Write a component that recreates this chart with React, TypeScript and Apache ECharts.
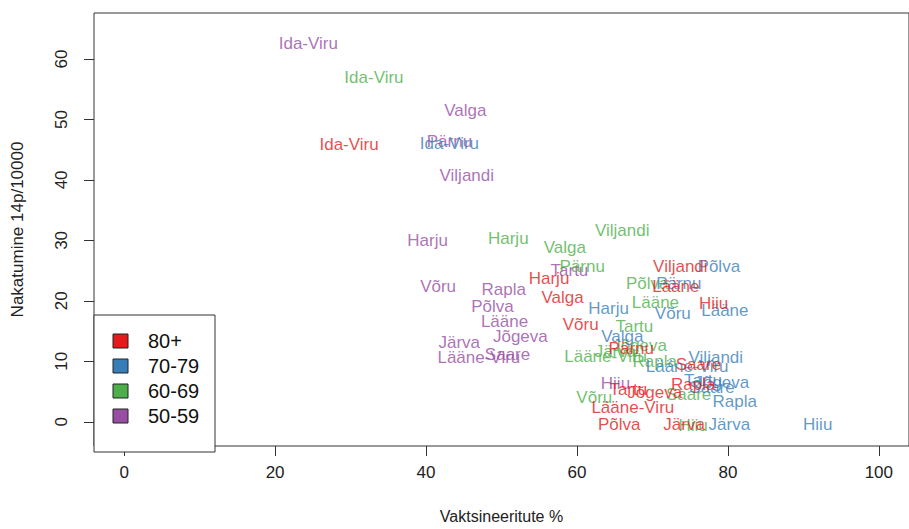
import React, { useEffect, useRef } from "react";
import * as echarts from "echarts";

// Age groups and their colours (RColorBrewer Set1)
const groups = ["80+", "70-79", "60-69", "50-59"];
const groupColors = ["#E41A1C", "#377EB8", "#4DAF4A", "#984EA3"];

// 80+
const names80 = ["Ida-Viru", "Harju", "Valga", "Võru", "Viljandi", "Lääne", "Hiiu", "Pärnu", "Saare", "Rapla", "Tartu", "Jõgeva", "Lääne-Viru", "Põlva", "Järva"];
const vacc80 = [29.8, 56.3, 58.1, 60.5, 73.7, 73.1, 78.1, 67.2, 76.1, 75.4, 66.8, 70.3, 67.4, 65.6, 74.2];
const inc80 = [45.9, 23.7, 20.6, 16.1, 25.7, 22.3, 19.5, 12.2, 9.4, 6.1, 5.3, 4.8, 2.4, -0.4, -0.4];

// 70-79
const names70 = ["Ida-Viru", "Põlva", "Pärnu", "Lääne", "Võru", "Harju", "Valga", "Lääne-Viru", "Viljandi", "Tartu", "Jõgeva", "Saare", "Rapla", "Järva", "Hiiu"];
const vacc70 = [43.1, 78.8, 73.5, 79.6, 72.7, 64.2, 66.0, 74.6, 78.4, 76.7, 79.2, 77.9, 80.9, 80.2, 91.9];
const inc70 = [46.1, 25.7, 22.8, 18.4, 17.9, 18.8, 14.1, 9.1, 10.7, 6.8, 6.5, 5.6, 3.4, -0.4, -0.4];

// 60-69
const names60 = ["Ida-Viru", "Viljandi", "Harju", "Valga", "Pärnu", "Põlva", "Lääne", "Tartu", "Lääne-Viru", "Järva", "Jõgeva", "Rapla", "Saare", "Võru", "Hiiu"];
const vacc60 = [33.1, 66.0, 50.9, 58.4, 60.7, 69.3, 70.4, 67.6, 63.8, 65.1, 68.3, 70.3, 74.8, 62.3, 75.4];
const inc60 = [57.0, 31.6, 30.3, 28.8, 25.7, 22.9, 19.8, 15.7, 10.8, 11.7, 12.6, 10.0, 4.5, 4.0, -0.6];

// 50-59
const names50 = ["Ida-Viru", "Valga", "Pärnu", "Viljandi", "Harju", "Võru", "Rapla", "Põlva", "Lääne", "Jõgeva", "Järva", "Saare", "Lääne-Viru", "Tartu", "Hiiu"];
const vacc50 = [24.4, 45.2, 43.1, 45.4, 40.2, 41.6, 50.3, 48.8, 50.4, 52.5, 44.4, 50.8, 47.0, 59.0, 65.1];
const inc50 = [62.6, 51.5, 46.4, 40.7, 29.9, 22.4, 21.8, 19.0, 16.6, 14.1, 13.1, 11.2, 10.7, 25.0, 6.4];

const xTicks = [0, 20, 40, 60, 80, 100];
const yTicks = [0, 10, 20, 30, 40, 50, 60];
const xTitle = "Vaktsineeritute %";
const yTitle = "Nakatumine 14p/10000";

const FONT = "'Liberation Sans', Arial, Helvetica, sans-serif";

export default function App() {
  const ref = useRef<HTMLDivElement>(null);
  useEffect(() => {
    document.body.style.margin = "0";
    if (!ref.current) return;
    const chart = echarts.init(ref.current, null, { renderer: "svg" });
    const groupData = [
      [names80, vacc80, inc80],
      [names70, vacc70, inc70],
      [names60, vacc60, inc60],
      [names50, vacc50, inc50],
    ];
    const series = groupData.map(([n, xs, ys], gi) => ({
      type: "scatter",
      name: groups[gi],
      symbol: "circle",
      symbolSize: 1,
      itemStyle: { color: "rgba(0,0,0,0)" },
      z: 10 - gi,
      label: {
        show: true,
        position: "inside",
        formatter: "{b}",
        color: groupColors[gi],
        fontSize: 17,
        fontFamily: FONT,
      },
      emphasis: { disabled: true },
      data: (n as string[]).map((name, i) => ({ name, value: [(xs as number[])[i], (ys as number[])[i]] })),
    }));

    const legendTop = 315;
    const rowYs = [341, 366, 391, 416];
    const legendEls: any[] = [
      {
        type: "rect",
        shape: { x: 94, y: legendTop, width: 121, height: 452 - legendTop },
        style: { fill: "#fff", stroke: "#333", lineWidth: 1 },
        z: 100,
      },
    ];
    groups.forEach((g, i) => {
      legendEls.push({
        type: "rect",
        shape: { x: 113, y: rowYs[i] - 7, width: 15, height: 14 },
        style: { fill: groupColors[i], stroke: "#222", lineWidth: 1 },
        z: 101,
      });
      legendEls.push({
        type: "text",
        x: 148,
        y: rowYs[i],
        style: {
          text: g,
          fill: "#111",
          fontSize: 20,
          fontFamily: FONT,
          verticalAlign: "middle",
          textAlign: "left",
        },
        z: 101,
      });
    });

    chart.setOption({
      animation: false,
      backgroundColor: "#fff",
      grid: {
        left: 94,
        top: 13,
        width: 823,
        height: 439,
        show: true,
        borderColor: "#333",
        borderWidth: 1,
        backgroundColor: "transparent",
        containLabel: false,
      },
      xAxis: {
        type: "value",
        min: -4,
        max: 104,
        splitLine: { show: false },
        axisLine: { show: false, onZero: false },
        axisTick: { show: true, length: 10, lineStyle: { color: "#333" }, customValues: xTicks },
        axisLabel: { customValues: xTicks, color: "#222", fontSize: 17, fontFamily: FONT, margin: 18 },
        name: xTitle,
        nameLocation: "middle",
        nameGap: 62,
        nameTextStyle: { color: "#222", fontSize: 16, fontFamily: FONT },
      },
      yAxis: {
        type: "value",
        min: -4,
        max: 67.6,
        splitLine: { show: false },
        axisLine: { show: false, onZero: false },
        axisTick: { show: true, length: 10, lineStyle: { color: "#333" }, customValues: yTicks },
        axisLabel: { customValues: yTicks, rotate: 90, color: "#222", fontSize: 17, fontFamily: FONT, margin: 24 },
        name: yTitle,
        nameLocation: "middle",
        nameGap: 68,
        nameTextStyle: { color: "#222", fontSize: 17, fontFamily: FONT },
      },
      series,
      graphic: legendEls,
    });
    return () => chart.dispose();
  }, []);
  return <div ref={ref} style={{ width: 909, height: 529 }} />;
}
